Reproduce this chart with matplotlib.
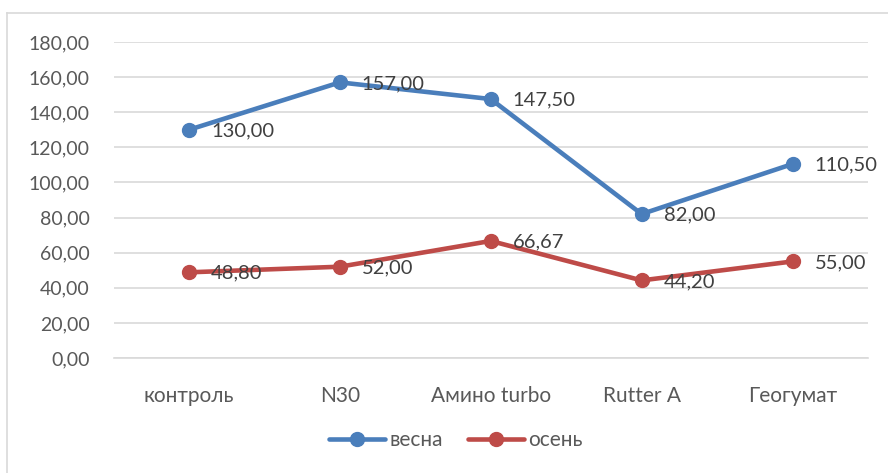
import matplotlib
matplotlib.use("Agg")
import matplotlib.pyplot as plt
from matplotlib.lines import Line2D

categories = ["контроль", "N30", "Амино turbo", "Rutter A", "Геогумат"]
vesna = [130.00, 157.00, 147.50, 82.00, 110.50]
osen = [48.80, 52.00, 66.67, 44.20, 55.00]
series_names = ["весна", "осень"]
yticks = [0, 20, 40, 60, 80, 100, 120, 140, 160, 180]

plt.rcParams['font.family'] = ['Lato', 'DejaVu Sans']
txt = '#595959'
blue = '#4A7EBB'
red = '#BE4B48'

fig = plt.figure(figsize=(8.88, 4.73), dpi=100)
ax = fig.add_axes([113.5/888, 1-358/473, (868-113.5)/888, (358-42)/473])

x = list(range(len(categories)))
for vals, col, name in [(vesna, blue, series_names[0]), (osen, red, series_names[1])]:
    ax.plot(x, vals, color=col, lw=3.3, marker='o', ms=10, label=name,
            solid_capstyle='round', zorder=3)
    for xi, v in zip(x, vals):
        ax.annotate(f"{v:.2f}".replace('.', ','), (xi, v), xytext=(22, -1),
                    textcoords='offset pixels', ha='left', va='center',
                    fontsize=14.5, color='#404040', zorder=4)

ax.set_xlim(-0.5, len(categories) - 0.5)
ax.set_ylim(0, 180)
ax.set_yticks(yticks)
ax.set_yticklabels([f"{t:.2f}".replace('.', ',') for t in yticks])
ax.set_xticks(x)
ax.set_xticklabels(categories)
ax.tick_params(axis='both', length=0, colors=txt)
ax.tick_params(axis='y', pad=17, labelsize=14)
ax.tick_params(axis='x', pad=20, labelsize=15)
ax.grid(axis='y', color='#D9D9D9', lw=1.2, zorder=0)
for s in ['left', 'right', 'top']:
    ax.spines[s].set_visible(False)
ax.spines['bottom'].set_color('#D9D9D9')
ax.spines['bottom'].set_linewidth(1.2)

leg = fig.legend(loc='center', bbox_to_anchor=(456/888, 1-440/473), ncol=2,
                 frameon=False, fontsize=15, handlelength=2.7, columnspacing=1.2,
                 handletextpad=0.2, labelcolor=txt)

# outer chart border (left and top visible)
fig.add_artist(Line2D([7/888, 7/888], [0, 1-13/473], transform=fig.transFigure,
                      color='#D9D9D9', lw=1.2))
fig.add_artist(Line2D([7/888, 1], [1-13/473, 1-13/473], transform=fig.transFigure,
                      color='#D9D9D9', lw=1.2))

fig.savefig("out.png", dpi=100)
